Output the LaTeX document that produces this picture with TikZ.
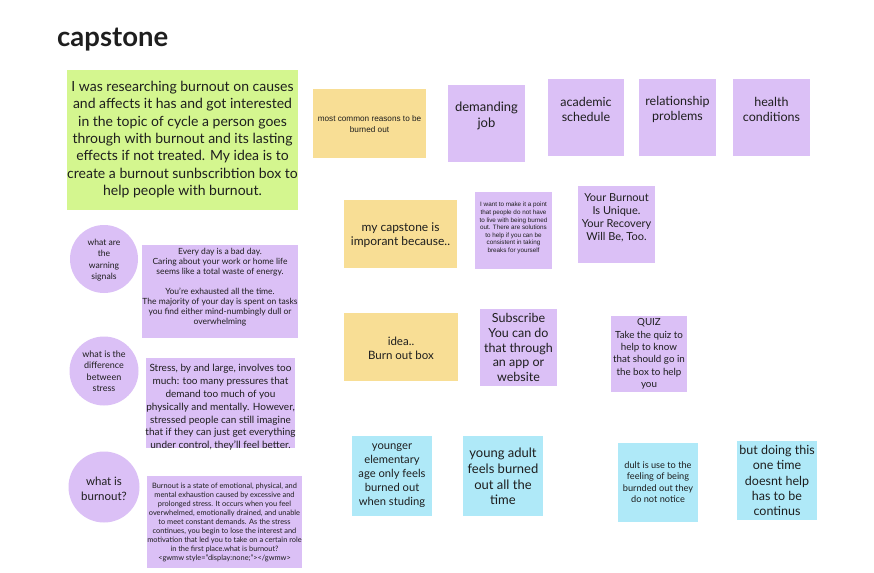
\documentclass[tikz,border=0pt]{standalone}
\usepackage{fontspec}
\setmainfont{Lato}
\newfontfamily\arialf{Liberation Sans}
\definecolor{gr}{HTML}{D4F68F}
\definecolor{ye}{HTML}{F8DE95}
\definecolor{pu}{HTML}{DBC0F6}
\definecolor{cy}{HTML}{AFE9F8}
\definecolor{ink}{HTML}{1E1E1E}
\newcommand\fs[2]{\fontsize{#1}{#2}\selectfont}
\begin{document}
\begin{tikzpicture}[x=1pt,y=-1pt,
  sticky/.style={draw=none,inner sep=0pt,outer sep=0pt,rectangle},
  bubble/.style={draw=none,circle,fill=pu,inner sep=0pt},
  txt/.style={align=center,inner sep=0pt,text=ink}]
\fill[white] (0,0) rectangle (874,572);
\useasboundingbox (0,0) rectangle (874,572);

\node[txt,anchor=base west,font=\bfseries\fs{27.5}{30}] (title) at (57,47) {capstone};

% green intro
\node[sticky,fill=gr,minimum width=231pt,minimum height=140pt] (intro) at (182.5,140) {};
\node[txt,font=\fs{14}{17.3}] (introT) at (182.5,139.5) {I was researching burnout on causes\\and affects it has and got interested\\in the topic of cycle a person goes\\through with burnout and its lasting\\effects if not treated. My idea is to\\create a burnout sunbscribtion box to\\help people with burnout.};

% top row
\node[sticky,fill=ye,minimum width=113pt,minimum height=69pt] (mostc) at (369.5,123.5) {};
\node[txt,font=\arialf\fs{8.2}{10.5}] (mostcT) at (369.5,124) {most common reasons to be\\burned out};
\node[sticky,fill=pu,minimum width=77pt,minimum height=77pt] (demand) at (486.5,123.5) {};
\node[txt,font=\fs{13}{16}] (demandT) at (486.5,116) {demanding\\job};
\node[sticky,fill=pu,minimum width=76pt,minimum height=77pt] (acad) at (586,117.5) {};
\node[txt,font=\fs{12.5}{15.5}] (acadT) at (586,109.5) {academic\\schedule};
\node[sticky,fill=pu,minimum width=77pt,minimum height=77pt] (rel) at (677.5,117.5) {};
\node[txt,font=\fs{12.5}{15.5}] (relT) at (677.5,109.5) {relationship\\problems};
\node[sticky,fill=pu,minimum width=77pt,minimum height=77pt] (health) at (771.5,117.5) {};
\node[txt,font=\fs{12.5}{15.5}] (healthT) at (771.5,109.5) {health\\conditions};

% second row
\node[sticky,fill=ye,minimum width=113pt,minimum height=68pt] (capst) at (400.5,234) {};
\node[txt,font=\fs{12}{14.5}] (capstT) at (400.5,235) {my capstone is\\imporant because..};
\node[sticky,fill=pu,minimum width=77pt,minimum height=77pt] (iwant) at (513.5,230.5) {};
\node[txt,font=\arialf\fs{6.3}{7.6}] (iwantT) at (513.5,228) {I want to make it a point\\that people do not have\\to live with being burned\\out. There are solutions\\to help if you can be\\consistent in taking\\breaks for yourself};
\node[sticky,fill=pu,minimum width=77pt,minimum height=77pt] (yourb) at (616.5,224.5) {};
\node[txt,font=\fs{11}{13}] (yourbT) at (616.5,218) {Your Burnout\\Is Unique.\\Your Recovery\\Will Be, Too.};

% third row
\node[sticky,fill=ye,minimum width=114pt,minimum height=68pt] (idea) at (401,347) {};
\node[txt,font=\fs{11.5}{14}] (ideaT) at (401,348) {idea..\\Burn out box};
\node[sticky,fill=pu,minimum width=77pt,minimum height=77pt] (subs) at (518.5,347.5) {};
\node[txt,font=\fs{12.5}{14.8}] (subsT) at (518.5,347.5) {Subscribe\\You can do\\that through\\an app or\\website};
\node[sticky,fill=pu,minimum width=76pt,minimum height=76pt] (quiz) at (649,354) {};
\node[txt,font=\fs{9.8}{12.4}] (quizT) at (649,354) {QUIZ\\Take the quiz to\\help to know\\that should go in\\the box to help\\you};

% bottom row
\node[sticky,fill=cy,minimum width=80pt,minimum height=80pt] (younger) at (392,476) {};
\node[txt,font=\fs{11.2}{14}] (youngerT) at (392,476) {younger\\elementary\\age only feels\\burned out\\when studing};
\node[sticky,fill=cy,minimum width=80pt,minimum height=80pt] (yadult) at (503,476) {};
\node[txt,font=\fs{13}{15.7}] (yadultT) at (503,476.5) {young adult\\feels burned\\out all the\\time};
\node[sticky,fill=cy,minimum width=80pt,minimum height=79pt] (dult) at (658,482.5) {};
\node[txt,font=\fs{9.2}{11.5}] (dultT) at (658,482) {dult is use to the\\feeling of being\\burnded out they\\do not notice};
\node[sticky,fill=cy,minimum width=80pt,minimum height=79pt] (butd) at (777,480.5) {};
\node[txt,font=\fs{12.5}{15.2}] (butdT) at (777,480.5) {but doing this\\one time\\doesnt help\\has to be\\continus};

% left column
\node[bubble,minimum size=68pt] (q1) at (104,259) {};
\node[txt,font=\fs{8.6}{11.3}] (q1T) at (104,260) {what are\\the\\warning\\signals};
\node[sticky,fill=pu,minimum width=156pt,minimum height=93pt] (warn) at (220,291.5) {};
\node[txt,font=\fs{8.5}{10.1}] (warnT) at (220,287) {Every day is a bad day.\\Caring about your work or home life\\seems like a total waste of energy.\\[10.1pt]You're exhausted all the time.\\The majority of your day is spent on tasks\\you find either mind-numbingly dull or\\overwhelming};

\node[bubble,minimum size=69pt] (q2) at (104,371) {};
\node[txt,font=\fs{9}{11.5}] (q2T) at (104,371) {what is the\\difference\\between\\stress};
\node[sticky,fill=pu,minimum width=149pt,minimum height=90pt] (stress) at (220.5,403) {};
\node[txt,font=\fs{10}{12.8}] (stressT) at (220.5,407.5) {Stress, by and large, involves too\\much: too many pressures that\\demand too much of you\\physically and mentally. However,\\stressed people can still imagine\\that if they can just get everything\\under control, they'll feel better.};

\node[bubble,minimum size=71pt] (q3) at (104,487) {};
\node[txt,font=\fs{11.5}{15}] (q3T) at (104,489) {what is\\burnout?};
\node[sticky,fill=pu,minimum width=155pt,minimum height=92pt] (burn) at (224.5,522) {};
\node[txt,font=\fs{7.4}{9}] (burnT) at (224.5,522) {Burnout is a state of emotional, physical, and\\mental exhaustion caused by excessive and\\prolonged stress. It occurs when you feel\\overwhelmed, emotionally drained, and unable\\to meet constant demands. As the stress\\continues, you begin to lose the interest and\\motivation that led you to take on a certain role\\in the first place.what is burnout?\\<gwmw style="display:none;"></gwmw>};
\end{tikzpicture}
\end{document}
